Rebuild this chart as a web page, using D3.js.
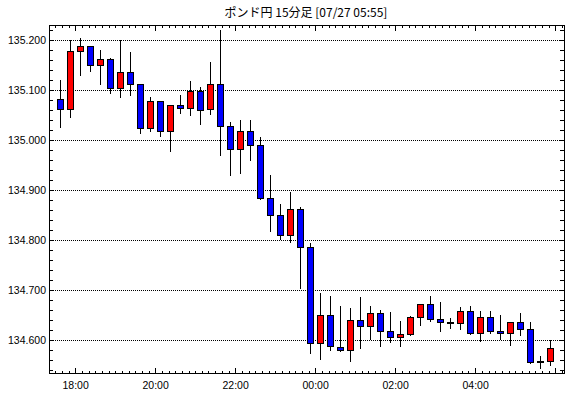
<!DOCTYPE html>
<html>
<head>
<meta charset="utf-8">
<script src="https://cdn.jsdelivr.net/npm/d3@7"></script>
<style>
  body { margin: 0; background: #fff; }
  svg text { fill: #000; }
</style>
</head>
<body>
<div id="chart"></div>
<script>
// 15-minute candles, first bar starts 07/26 17:30
const barStart = new Date(2023, 6, 26, 17, 30);
const barMinutes = 15;

const opens = [
  135.083, 135.063, 135.179, 135.188, 135.150, 135.162, 135.105, 135.136, 135.113, 135.025,
  135.079, 135.019, 135.071, 135.065, 135.099, 135.063, 135.113, 135.028, 134.983, 135.019,
  134.991, 134.884, 134.850, 134.810, 134.862, 134.787, 134.595, 134.650, 134.587, 134.581,
  134.640, 134.628, 134.654, 134.619, 134.607, 134.613, 134.646, 134.672, 134.643, 134.636,
  134.634, 134.658, 134.615, 134.646, 134.619, 134.615, 134.636, 134.623, 134.558, 134.559
];
const highs = [
  135.120, 135.201, 135.204, 135.188, 135.180, 135.164, 135.201, 135.176, 135.113, 135.087,
  135.079, 135.071, 135.091, 135.118, 135.107, 135.157, 135.221, 135.037, 135.040, 135.040,
  135.006, 134.931, 134.873, 134.897, 134.866, 134.795, 134.694, 134.689, 134.668, 134.664,
  134.687, 134.668, 134.660, 134.656, 134.638, 134.648, 134.672, 134.688, 134.676, 134.645,
  134.666, 134.668, 134.658, 134.658, 134.650, 134.636, 134.654, 134.636, 134.568, 134.601
];
const lows = [
  135.025, 135.044, 135.129, 135.137, 135.111, 135.093, 135.085, 135.089, 135.012, 135.016,
  135.006, 134.976, 135.052, 135.048, 135.030, 135.050, 134.968, 134.928, 134.933, 134.958,
  134.881, 134.817, 134.801, 134.795, 134.702, 134.573, 134.560, 134.579, 134.577, 134.556,
  134.583, 134.601, 134.587, 134.595, 134.587, 134.609, 134.629, 134.636, 134.617, 134.623,
  134.620, 134.611, 134.597, 134.613, 134.601, 134.589, 134.609, 134.552, 134.542, 134.548
];
const closes = [
  135.063, 135.179, 135.188, 135.150, 135.162, 135.105, 135.136, 135.113, 135.025, 135.079,
  135.019, 135.071, 135.065, 135.099, 135.061, 135.113, 135.029, 134.983, 135.019, 134.990,
  134.885, 134.850, 134.810, 134.862, 134.787, 134.595, 134.650, 134.588, 134.581, 134.640,
  134.628, 134.654, 134.619, 134.607, 134.613, 134.646, 134.672, 134.643, 134.636, 134.635,
  134.658, 134.615, 134.646, 134.619, 134.615, 134.636, 134.623, 134.557, 134.557, 134.585
];

const priceTicks = [135.2, 135.1, 135.0, 134.9, 134.8, 134.7, 134.6];
const timeLabels = ["18:00", "20:00", "22:00", "00:00", "02:00", "04:00"];
const titleText = "ポンド円 15分足 [07/27 05:55]";

const outerW = 570, outerH = 398;
const plot = { left: 49, right: 564, top: 25, bottom: 374 };

const data = opens.map((o, i) => ({
  t: new Date(+barStart + i * barMinutes * 60000),
  o, h: highs[i], l: lows[i], c: closes[i]
}));

const svg = d3.select("#chart").append("svg")
  .attr("width", outerW)
  .attr("height", outerH)
  .style("display", "block");

const x = d3.scaleTime()
  .domain([new Date(2023, 6, 26, 17, 20), new Date(2023, 6, 27, 6, 12, 30)])
  .range([plot.left, plot.right]);
const y = d3.scaleLinear()
  .domain([134.532, 135.231])
  .range([plot.bottom, plot.top]);

const px = v => Math.floor(v) + 0.5;

// title
svg.append("text")
  .attr("x", 306)
  .attr("y", 17)
  .attr("text-anchor", "middle")
  .style("font-family", "'Noto Sans CJK JP', sans-serif")
  .style("font-size", "12px")
  .text(titleText);

// dotted grid
svg.append("g").selectAll("line")
  .data(priceTicks)
  .join("line")
  .attr("x1", plot.left).attr("x2", plot.right)
  .attr("y1", d => px(y(d))).attr("y2", d => px(y(d)))
  .attr("stroke", "#000")
  .attr("stroke-dasharray", "1,1");

// minor y ticks every 0.02 on both sides
const yMinor = d3.range(134.54, 135.23, 0.02);
const yt = svg.append("g").attr("stroke", "#000");
yMinor.forEach(v => {
  const yy = px(y(v));
  yt.append("line").attr("x1", plot.left).attr("x2", plot.left + 4).attr("y1", yy).attr("y2", yy);
  yt.append("line").attr("x1", plot.right - 4).attr("x2", plot.right).attr("y1", yy).attr("y2", yy);
});

// x ticks every 10 minutes, longer at 2 hour marks
const xMinor = d3.timeMinute.every(10).range(x.domain()[0], x.domain()[1]);
const xt = svg.append("g").attr("stroke", "#000");
xMinor.forEach(t => {
  const xx = px(x(t));
  const major = t.getMinutes() === 0 && t.getHours() % 2 === 0;
  const len = major ? 6 : 3;
  xt.append("line").attr("x1", xx).attr("x2", xx).attr("y1", plot.top).attr("y2", plot.top + len);
  xt.append("line").attr("x1", xx).attr("x2", xx).attr("y1", plot.bottom - len).attr("y2", plot.bottom);
});

// y labels
svg.append("g").selectAll("text")
  .data(priceTicks)
  .join("text")
  .attr("x", 46)
  .attr("y", d => y(d) + 4)
  .attr("text-anchor", "end")
  .style("font-family", "'Liberation Sans', sans-serif")
  .style("font-size", "10.5px")
  .text(d => d3.format(".3f")(d));

// x labels (two-hourly, from 18:00)
const labelTimes = timeLabels.map((s, i) => new Date(2023, 6, 26, 18 + i * 2, 0));
svg.append("g").selectAll("text")
  .data(labelTimes)
  .join("text")
  .attr("x", d => x(d))
  .attr("y", 389)
  .attr("text-anchor", "middle")
  .style("font-family", "'Liberation Sans', sans-serif")
  .style("font-size", "10.5px")
  .text((d, i) => timeLabels[i]);

// candles
const half = barMinutes * 30000;
const candles = svg.append("g").selectAll("g")
  .data(data)
  .join("g");

candles.append("line")
  .attr("x1", d => px(x(new Date(+d.t + half))))
  .attr("x2", d => px(x(new Date(+d.t + half))))
  .attr("y1", d => Math.round(y(d.h)))
  .attr("y2", d => Math.round(y(d.l)))
  .attr("stroke", "#000");

candles.append("rect")
  .attr("x", d => px(x(new Date(+d.t + half))) - 3)
  .attr("width", 6)
  .attr("y", d => Math.round(y(Math.max(d.o, d.c))) + 0.5)
  .attr("height", d => Math.max(0, Math.round(y(Math.min(d.o, d.c))) - Math.round(y(Math.max(d.o, d.c)))))
  .attr("fill", d => d.c >= d.o ? "#ff0000" : "#0000ff")
  .attr("stroke", "#000");

// frame
svg.append("rect")
  .attr("x", plot.left + 0.5)
  .attr("y", plot.top + 0.5)
  .attr("width", plot.right - plot.left)
  .attr("height", plot.bottom - plot.top - 1)
  .attr("fill", "none")
  .attr("stroke", "#000");
</script>
</body>
</html>
